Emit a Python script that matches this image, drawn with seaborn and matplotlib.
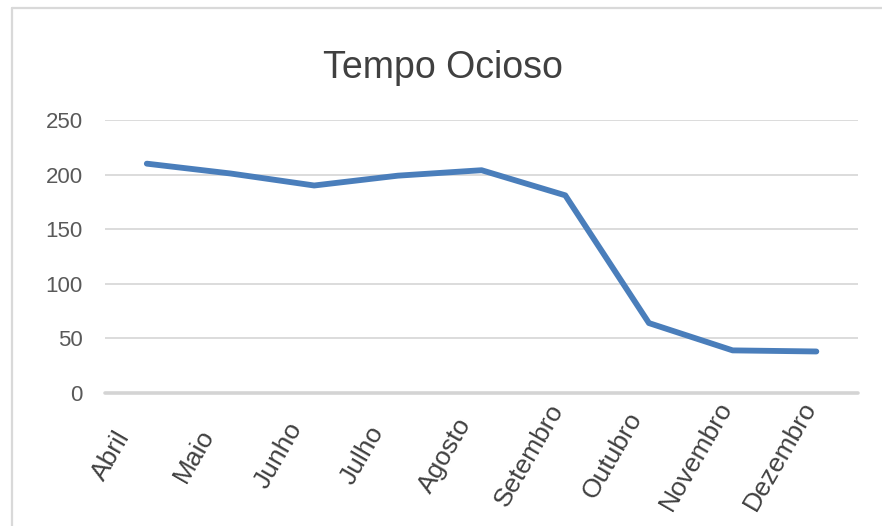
import matplotlib
matplotlib.use("Agg")
import matplotlib.pyplot as plt
import matplotlib.transforms as mtransforms
import seaborn as sns
import pandas as pd
from matplotlib.lines import Line2D

# data
months = ["Abril", "Maio", "Junho", "Julho", "Agosto",
          "Setembro", "Outubro", "Novembro", "Dezembro"]
idle_time = [210, 201, 190, 199, 204, 181, 64, 39, 38]
y_ticks = [0, 50, 100, 150, 200, 250]

sns.set_theme(style="white")
plt.rcParams['font.family'] = ['Liberation Sans', 'DejaVu Sans']

df = pd.DataFrame({"mes": months, "tempo": idle_time})

fig = plt.figure(figsize=(8.82, 5.26), dpi=100)
ax = fig.add_axes([0.119, 0.2529, 0.854, 0.519])

sns.lineplot(data=df, x="mes", y="tempo", ax=ax, color="#4A7EBB",
             linewidth=4.2, sort=False, solid_capstyle="round")

ax.set_xlim(-0.5, len(months) - 0.5)
ax.set_ylim(0, 250)
ax.set_yticks(y_ticks)
ax.set_yticklabels([str(v) for v in y_ticks], fontsize=16, color="#595959")
ax.set_xticks(range(len(months)))
# Excel centres the rotated month names on a common line below the axis
ax.set_xticklabels(months, fontsize=19, color="#404040", rotation=60,
                   ha="center", va="center", rotation_mode="anchor")
ax.tick_params(axis="y", length=0, pad=16)
ax.tick_params(axis="x", length=0, pad=45)
shift = mtransforms.ScaledTranslation(-36 / 100, 0, fig.dpi_scale_trans)
for lbl in ax.get_xticklabels():
    lbl.set_transform(lbl.get_transform() + shift)
ax.set_xlabel("")
ax.set_ylabel("")

# gridlines in the Excel style
for v in y_ticks[1:]:
    ax.axhline(v, color="#d9d9d9", linewidth=1.3, zorder=0)
ax.axhline(0, color="#d4d4d4", linewidth=2.6, zorder=0, clip_on=False)
for s in ax.spines.values():
    s.set_visible(False)

fig.text(443 / 882, 1 - 68 / 526, "Tempo Ocioso", fontsize=27,
         color="#404040", ha="center", va="center")

# chart frame (left and top edges visible)
fig.add_artist(Line2D([12 / 882, 12 / 882], [0, 1 - 8 / 526],
                      transform=fig.transFigure, color="#d9d9d9", linewidth=1.6))
fig.add_artist(Line2D([12 / 882, 1], [1 - 8 / 526, 1 - 8 / 526],
                      transform=fig.transFigure, color="#d9d9d9", linewidth=1.6))

fig.savefig("out.png", dpi=100)
